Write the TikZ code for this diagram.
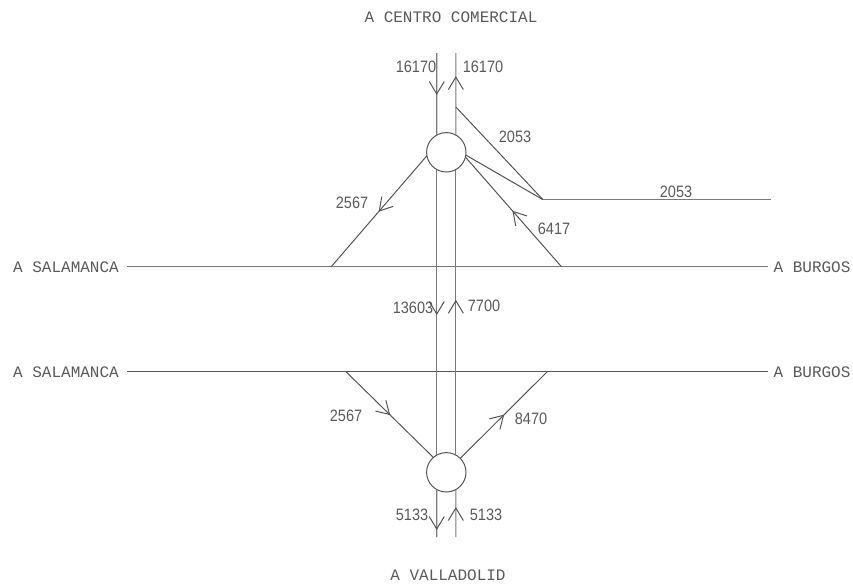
\documentclass[tikz,border=0pt]{standalone}
\usepackage{fontspec}
\setmainfont{Liberation Sans}
\newfontfamily\capsfont{Liberation Mono}
\newfontfamily\digitfont[FakeStretch=0.88]{Liberation Sans}
\usetikzlibrary{decorations.markings}
\definecolor{roadgray}{HTML}{7A7A7A}
\definecolor{linkgray}{HTML}{555555}
\definecolor{textgray}{HTML}{5A5A5A}
\tikzset{
  road/.style={draw=roadgray,line width=1.2pt},
  darkroad/.style={draw=linkgray,line width=1.1pt},
  link/.style={draw=linkgray,line width=1pt},
  flow/.style={postaction={decorate},decoration={markings,
    mark=at position #1 with {\draw[draw=linkgray,line width=1pt] (-12.5pt,7.5pt) -- (0pt,0pt) -- (-12.5pt,-7.5pt);}}},
  place/.style={inner sep=0pt,outer sep=0pt,text=textgray,font=\capsfont\fontsize{16}{16}\selectfont},
  flowval/.style={inner sep=0pt,outer sep=0pt,text=textgray,font=\digitfont\fontsize{16.5}{16.5}\selectfont},
  rbt/.style={circle,draw=linkgray,line width=1pt,inner sep=0pt,outer sep=0pt,minimum size=39.4pt},
}
\begin{document}
\begin{tikzpicture}[x=1pt,y=-1pt]
\useasboundingbox (0,0) rectangle (853,584);
% texts
\node[place] (centro) at (451,17) {A CENTRO COMERCIAL};
\node[place] (valla) at (448,575) {A VALLADOLID};
\node[place] (sal1) at (66,267) {A SALAMANCA};
\node[place] (sal2) at (66,372) {A SALAMANCA};
\node[place] (bur1) at (812,267) {A BURGOS};
\node[place] (bur2) at (812,372) {A BURGOS};
\node[flowval] (n1) at (416,67) {16170};
\node[flowval] (n2) at (483,67) {16170};
\node[flowval] (n3) at (515,137) {2053};
\node[flowval] (n4) at (676,192) {2053};
\node[flowval] (n5) at (352,203) {2567};
\node[flowval] (n6) at (554,229) {6417};
\node[flowval] (n7) at (413,308) {13603};
\node[flowval] (n8) at (484,306) {7700};
\node[flowval] (n9) at (346,416) {2567};
\node[flowval] (n10) at (531,419) {8470};
\node[flowval] (n11) at (412,515) {5133};
\node[flowval] (n12) at (486,515) {5133};
% roundabouts
\node[rbt] (c1) at (446.3,152.3) {};
\node[rbt] (c2) at (446.3,472.3) {};
% free ends
\coordinate (lt) at (436.75,53);
\coordinate (rt) at (455.85,53);
\coordinate (lb) at (436.75,537);
\coordinate (rb) at (455.85,537);
\coordinate (h1l) at (127,266.7);
\coordinate (h1r) at (768,266.7);
\coordinate (h2l) at (127,371.7);
\coordinate (h2r) at (768,371.7);
\coordinate (ramp) at (455.85,107);
\coordinate (junc) at (543,199.7);
\coordinate (east) at (771,199.7);
\coordinate (j1) at (331,267);
\coordinate (j2) at (561.7,267);
\coordinate (j3) at (346,371.7);
\coordinate (j4) at (547.3,371.7);
% main roads
\draw[road] (h1l) -- (h1r);
\draw[darkroad] (h2l) -- (h2r);
\draw[road,flow=41pt] (lt) -- (c1.119);
\draw[road,flow=144.5pt] (c1.241) -- (c2.119);
\draw[road,flow=39.5pt] (c2.241) -- (lb);
\draw[road,flow=29pt] (rb) -- (c2.-61);
\draw[road,flow=154.3pt] (c2.61) -- (c1.-61);
\draw[road,flow=58pt] (c1.61) -- (rt);
% links
\draw[link] (ramp) -- (junc);
\draw[link] (c1.-8) -- (junc);
\draw[road] (junc) -- (east);
\draw[link,flow=72.9pt] (c1.190) -- (j1);
\draw[link,flow=73.8pt] (j2) -- (c1.-14);
\draw[link,flow=61pt] (j3) -- (c2.131);
\draw[link,flow=61pt] (c2.45) -- (j4);
\end{tikzpicture}
\end{document}
